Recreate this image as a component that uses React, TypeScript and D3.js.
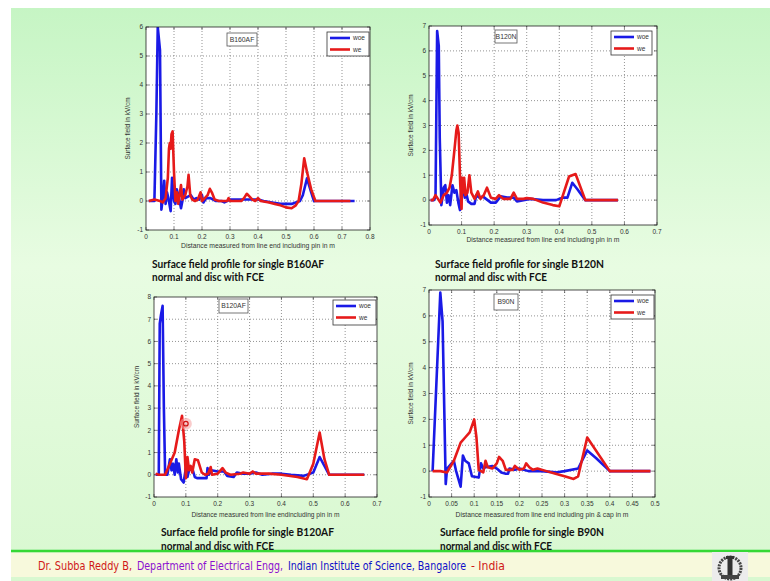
import React from "react";
import * as d3 from "d3";

type Pt = [number, number];

// ---- data ----
const b160afWoe: Pt[] = [[0.01,0],[0.03,0],[0.037,3],[0.042,6.0],[0.046,5.6],[0.05,5.2],[0.055,-0.3],[0.06,0.1],[0.065,0.7],[0.07,-0.1],[0.075,0.3],[0.08,0.1],[0.088,-0.35],[0.093,0.8],[0.1,0.0],[0.105,-0.1],[0.11,0.4],[0.118,0.1],[0.125,-0.25],[0.13,0.0],[0.135,0.4],[0.14,0.1],[0.15,0.15],[0.16,0.2],[0.17,0.05],[0.18,0.1],[0.19,0.05],[0.2,0.2],[0.205,-0.05],[0.215,0.1],[0.23,0.1],[0.25,0.0],[0.27,0.0],[0.28,-0.05],[0.3,0.05],[0.32,0.05],[0.35,0.05],[0.38,0.05],[0.4,0.05],[0.42,0.0],[0.45,-0.05],[0.48,-0.1],[0.52,-0.1],[0.55,0.0],[0.56,0.2],[0.575,0.78],[0.59,0.3],[0.6,0.0],[0.65,0.0],[0.7,0.0],[0.745,0.0]];
const b160afWe: Pt[] = [[0.01,0],[0.03,0.05],[0.05,0.0],[0.06,-0.05],[0.07,0.1],[0.078,0.8],[0.082,1.8],[0.085,2.0],[0.088,1.8],[0.091,2.3],[0.095,2.4],[0.1,1.0],[0.105,0.0],[0.11,0.3],[0.115,-0.1],[0.12,0.2],[0.125,0.55],[0.13,0.05],[0.14,0.2],[0.148,0.5],[0.152,0.9],[0.158,0.2],[0.165,0.05],[0.175,0.0],[0.185,0.05],[0.195,0.3],[0.2,0.0],[0.21,0.1],[0.22,0.2],[0.228,0.42],[0.235,0.3],[0.245,0.05],[0.26,0.0],[0.29,0.0],[0.295,0.1],[0.3,0.0],[0.34,0.0],[0.35,0.1],[0.36,0.25],[0.37,0.15],[0.38,0.05],[0.39,0.0],[0.4,0.1],[0.41,0.0],[0.44,-0.05],[0.46,-0.1],[0.48,-0.15],[0.5,-0.22],[0.52,-0.25],[0.535,-0.15],[0.545,0.0],[0.555,0.6],[0.565,1.47],[0.575,1.0],[0.59,0.4],[0.605,0.0],[0.65,0.0],[0.7,0.0],[0.73,0.0]];

const b120nWoe: Pt[] = [[0.005,0],[0.015,0],[0.02,0.1],[0.025,6.8],[0.03,6.2],[0.033,2.5],[0.038,-0.2],[0.045,0.5],[0.05,0.6],[0.055,-0.1],[0.06,0.2],[0.065,-0.2],[0.072,0.6],[0.078,0.3],[0.084,0.4],[0.09,-0.1],[0.095,-0.4],[0.1,0.6],[0.105,0.4],[0.11,0.1],[0.115,0.25],[0.12,-0.05],[0.13,-0.15],[0.14,-0.15],[0.145,0.2],[0.155,0.1],[0.165,0.15],[0.18,0.0],[0.19,-0.1],[0.205,-0.1],[0.22,0.15],[0.24,0.1],[0.26,0.1],[0.27,-0.05],[0.29,0.0],[0.31,0.05],[0.35,0.0],[0.39,0.0],[0.41,0.1],[0.425,0.1],[0.44,0.7],[0.455,0.45],[0.48,0.0],[0.52,0.0],[0.58,0.0]];
const b120nWe: Pt[] = [[0.005,0],[0.012,0.0],[0.02,0.2],[0.03,0.0],[0.035,-0.1],[0.045,0.2],[0.055,0.3],[0.063,0.5],[0.07,1.0],[0.078,2.0],[0.084,2.8],[0.087,3.0],[0.091,2.7],[0.096,0.6],[0.1,-0.35],[0.102,0.9],[0.105,0.3],[0.108,0.9],[0.112,0.2],[0.118,0.3],[0.124,1.0],[0.13,0.3],[0.14,0.05],[0.15,0.35],[0.158,0.05],[0.168,0.2],[0.178,0.5],[0.19,0.1],[0.205,0.05],[0.215,0.2],[0.228,0.05],[0.25,0.05],[0.26,0.3],[0.27,0.05],[0.29,0.05],[0.3,0.08],[0.32,0.05],[0.35,-0.1],[0.38,-0.2],[0.4,-0.25],[0.43,0.95],[0.45,1.05],[0.48,0.0],[0.52,0.0],[0.58,0.0]];

const b120afWoe: Pt[] = [[0.005,0],[0.015,0],[0.018,6.8],[0.022,7.2],[0.027,7.6],[0.031,3.0],[0.035,0.0],[0.042,0.0],[0.05,0.7],[0.055,0.2],[0.06,0.5],[0.065,0.0],[0.07,0.7],[0.075,0.1],[0.078,0.5],[0.085,-0.2],[0.093,-0.35],[0.1,0.3],[0.105,-0.1],[0.11,0.2],[0.12,0.3],[0.128,-0.1],[0.135,-0.15],[0.15,-0.15],[0.165,-0.15],[0.168,0.3],[0.172,0.0],[0.18,0.2],[0.2,0.15],[0.22,0.15],[0.23,-0.05],[0.25,-0.1],[0.26,0.1],[0.28,0.05],[0.3,0.05],[0.32,0.1],[0.34,0.0],[0.37,0.05],[0.4,0.05],[0.43,0.0],[0.47,-0.05],[0.5,0.1],[0.52,0.8],[0.535,0.4],[0.55,0.0],[0.6,0.0],[0.66,0.0]];
const b120afWe: Pt[] = [[0.005,0.05],[0.015,0.0],[0.035,0.0],[0.05,0.5],[0.065,1.0],[0.078,2.0],[0.088,2.65],[0.095,1.5],[0.1,-0.15],[0.105,0.8],[0.11,0.2],[0.115,0.4],[0.12,0.1],[0.128,0.7],[0.138,0.65],[0.15,0.1],[0.16,0.0],[0.17,0.05],[0.178,0.35],[0.182,0.0],[0.2,0.05],[0.215,0.3],[0.225,0.1],[0.24,0.0],[0.27,0.05],[0.28,0.1],[0.3,0.05],[0.31,0.15],[0.32,0.05],[0.36,0.05],[0.4,0.0],[0.45,-0.1],[0.48,-0.2],[0.5,0.5],[0.52,1.9],[0.535,0.7],[0.55,0.0],[0.6,0.0],[0.66,0.0]];

const b90nWoe: Pt[] = [[0.008,0],[0.025,6.9],[0.03,5.8],[0.037,-0.5],[0.04,0.1],[0.05,0.3],[0.055,0.4],[0.06,0.0],[0.07,-0.6],[0.075,0.6],[0.08,0.4],[0.088,0.3],[0.095,-0.2],[0.11,-0.25],[0.115,0.3],[0.12,0.1],[0.125,0.15],[0.14,0.2],[0.15,0.1],[0.16,-0.05],[0.17,-0.1],[0.175,-0.1],[0.178,0.1],[0.19,0.05],[0.2,0.1],[0.22,0.0],[0.25,0.0],[0.28,-0.05],[0.3,0.0],[0.33,0.1],[0.35,0.8],[0.37,0.5],[0.4,0.0],[0.45,0.0],[0.49,0.0]];
const b90nWe: Pt[] = [[0.008,0],[0.025,0.0],[0.04,-0.05],[0.055,0.4],[0.07,1.1],[0.08,1.3],[0.09,1.5],[0.1,2.0],[0.105,1.3],[0.11,0.05],[0.12,-0.05],[0.125,0.4],[0.13,0.15],[0.14,0.1],[0.15,0.3],[0.155,0.55],[0.163,0.4],[0.17,0.05],[0.185,0.05],[0.19,0.2],[0.2,0.05],[0.21,0.1],[0.215,0.3],[0.222,0.15],[0.23,0.05],[0.24,0.1],[0.26,0.0],[0.28,-0.1],[0.3,-0.2],[0.32,-0.3],[0.33,-0.2],[0.35,1.3],[0.4,0.0],[0.45,0.0],[0.49,0.0]];

const xTicks08 = [0, 0.1, 0.2, 0.3, 0.4, 0.5, 0.6, 0.7, 0.8];
const xTicks07 = [0, 0.1, 0.2, 0.3, 0.4, 0.5, 0.6, 0.7];
const xTicks05 = [0, 0.05, 0.1, 0.15, 0.2, 0.25, 0.3, 0.35, 0.4, 0.45, 0.5];
const yTicks6 = [-1, 0, 1, 2, 3, 4, 5, 6];
const yTicks7 = [-1, 0, 1, 2, 3, 4, 5, 6, 7];
const yTicks8 = [-1, 0, 1, 2, 3, 4, 5, 6, 7, 8];
const seriesNames = ["woe", "we"];
const titleLine2 = "normal and disc with FCE";
const yAxisLabel = "Surface field in kV/cm";
const markerPoint: Pt = [0.1, 2.3];
const footerParts = ["Dr. Subba Reddy B,", "Department of Electrical Engg,", "Indian Institute of Science, Bangalore", "- India"];

const BLUE = "#1a1ae6";
const RED = "#e61a1a";
const AX_FONT = "'Liberation Sans', Arial, sans-serif";
const TITLE_FONT = "Lato, 'Open Sans', sans-serif";

type Panel = {
  label: string;
  title: string;
  xLabel: string;
  xTicks: number[];
  yTicks: number[];
  woe: Pt[];
  we: Pt[];
  x0: number; x1: number; y0: number; y1: number;
  xLabelY: number; xLabelW: number;
  yLabelX: number;
  titleX: number; titleY: number; titleW: number; title2W: number;
  leg: [number, number, number, number];
  box: [number, number, number, number];
  marker?: boolean;
};

const panels: Panel[] = [
  {
    label: "B160AF", title: "Surface  field profile for single B160AF",
    xLabel: "Distance measured from line end including pin in m",
    xTicks: xTicks08, yTicks: yTicks6, woe: b160afWoe, we: b160afWe,
    x0: 146, x1: 370, y0: 230, y1: 27,
    xLabelY: 246, xLabelW: 154, yLabelX: 130,
    titleX: 152, titleY: 267.5, titleW: 172, title2W: 112,
    leg: [327, 32, 42, 24], box: [227, 33, 30, 13],
  },
  {
    label: "B120N", title: "Surface  field profile for single B120N",
    xLabel: "Distance measured from line end including pin in m",
    xTicks: xTicks07, yTicks: yTicks7, woe: b120nWoe, we: b120nWe,
    x0: 429, x1: 657, y0: 225, y1: 26,
    xLabelY: 240, xLabelW: 153, yLabelX: 413,
    titleX: 435, titleY: 267.5, titleW: 169, title2W: 112,
    leg: [611, 31, 41, 24], box: [495, 30, 22, 13],
  },
  {
    label: "B120AF", title: "Surface  field profile for single B120AF",
    xLabel: "Distance measured from line endincluding pin in m",
    xTicks: xTicks07, yTicks: yTicks8, woe: b120afWoe, we: b120afWe,
    x0: 154, x1: 377, y0: 497, y1: 297,
    xLabelY: 515, xLabelW: 148, yLabelX: 139,
    titleX: 161, titleY: 536, titleW: 173, title2W: 113,
    leg: [333, 300, 43, 25], box: [219, 299, 29, 14], marker: true,
  },
  {
    label: "B90N", title: "Surface  field profile for single B90N",
    xLabel: "Distance measured from line end including pin & cap in m",
    xTicks: xTicks05, yTicks: yTicks7, woe: b90nWoe, we: b90nWe,
    x0: 429, x1: 655, y0: 497, y1: 290,
    xLabelY: 515, xLabelW: 173, yLabelX: 413,
    titleX: 440, titleY: 536, titleW: 164, title2W: 112,
    leg: [611, 295, 43, 24], box: [494, 294, 24, 16],
  },
];

const fmt = (t: number) => String(+t.toFixed(2));

function PanelView({ p, idx }: { p: Panel; idx: number }) {
  const x = d3.scaleLinear().domain([p.xTicks[0], p.xTicks[p.xTicks.length - 1]]).range([p.x0, p.x1]);
  const y = d3.scaleLinear().domain([p.yTicks[0], p.yTicks[p.yTicks.length - 1]]).range([p.y0, p.y1]);
  const line = d3.line<Pt>().x((d) => x(d[0])).y((d) => y(d[1]));
  const clipId = `clip${idx}`;
  const [lx, ly, lw, lh] = p.leg;
  const [bx, by, bw, bh] = p.box;
  return (
    <g>
      <defs>
        <clipPath id={clipId}>
          <rect x={p.x0} y={p.y1} width={p.x1 - p.x0} height={p.y0 - p.y1} />
        </clipPath>
      </defs>
      <rect x={p.x0} y={p.y1} width={p.x1 - p.x0} height={p.y0 - p.y1} fill="#fff" />
      {p.xTicks.slice(1, -1).map((t) => (
        <line key={"gx" + t} x1={x(t)} x2={x(t)} y1={p.y0} y2={p.y1} stroke="#666" strokeWidth={0.7} strokeDasharray="1 2" />
      ))}
      {p.yTicks.slice(1, -1).map((t) => (
        <line key={"gy" + t} x1={p.x0} x2={p.x1} y1={y(t)} y2={y(t)} stroke="#666" strokeWidth={0.7} strokeDasharray="1 2" />
      ))}
      {p.xTicks.map((t) => (
        <g key={"tx" + t}>
          <line x1={x(t)} x2={x(t)} y1={p.y0} y2={p.y0 - 3} stroke="#333" strokeWidth={0.6} />
          <line x1={x(t)} x2={x(t)} y1={p.y1} y2={p.y1 + 3} stroke="#333" strokeWidth={0.6} />
          <text x={x(t)} y={p.y0 + 9} fontSize={6.5} textAnchor="middle" fill="#333" fontFamily={AX_FONT}>{fmt(t)}</text>
        </g>
      ))}
      {p.yTicks.map((t) => (
        <g key={"ty" + t}>
          <line x1={p.x0} x2={p.x0 + 3} y1={y(t)} y2={y(t)} stroke="#333" strokeWidth={0.6} />
          <line x1={p.x1} x2={p.x1 - 3} y1={y(t)} y2={y(t)} stroke="#333" strokeWidth={0.6} />
          <text x={p.x0 - 3} y={y(t) + 2.3} fontSize={6.5} textAnchor="end" fill="#333" fontFamily={AX_FONT}>{fmt(t)}</text>
        </g>
      ))}
      <g clipPath={`url(#${clipId})`}>
        <path d={line(p.woe) || ""} fill="none" stroke={BLUE} strokeWidth={2.6} strokeLinejoin="round" />
        <path d={line(p.we) || ""} fill="none" stroke={RED} strokeWidth={2.6} strokeLinejoin="round" />
      </g>
      <rect x={p.x0} y={p.y1} width={p.x1 - p.x0} height={p.y0 - p.y1} fill="none" stroke="#222" strokeWidth={0.8} />
      {/* label box */}
      <rect x={bx} y={by} width={bw} height={bh} fill="#fff" stroke="#555" strokeWidth={0.8} />
      <text x={bx + bw / 2} y={by + bh / 2 + 2.4} fontSize={6.8} textAnchor="middle" fill="#333" fontFamily={AX_FONT}>{p.label}</text>
      {/* legend */}
      <rect x={lx} y={ly} width={lw} height={lh} fill="#fff" stroke="#333" strokeWidth={0.8} />
      {seriesNames.map((s, i) => (
        <g key={s}>
          <line x1={lx + 3} x2={lx + 23} y1={ly + 6 + i * 11.5} y2={ly + 6 + i * 11.5} stroke={i === 0 ? BLUE : RED} strokeWidth={2.6} />
          <text x={lx + 26} y={ly + 8.3 + i * 11.5} fontSize={6.5} fill="#333" fontFamily={AX_FONT}>{s}</text>
        </g>
      ))}
      {p.marker && (
        <g>
          <circle cx={x(markerPoint[0])} cy={y(markerPoint[1])} r={6} fill="#f4a0a0" opacity={0.55} />
          <circle cx={x(markerPoint[0])} cy={y(markerPoint[1])} r={2.3} fill="none" stroke="#d01010" strokeWidth={1.2} />
        </g>
      )}
      {/* axis labels */}
      <text x={(p.x0 + p.x1) / 2} y={p.xLabelY + 2.3} fontSize={6.5} textAnchor="middle" fill="#333" fontFamily={AX_FONT}
        textLength={p.xLabelW} lengthAdjust="spacingAndGlyphs">{p.xLabel}</text>
      <text transform={`translate(${p.yLabelX},${(p.y0 + p.y1) / 2}) rotate(-90)`} fontSize={6.5} textAnchor="middle" fill="#333" fontFamily={AX_FONT}
        textLength={62} lengthAdjust="spacingAndGlyphs">{yAxisLabel}</text>
    </g>
  );
}

function Caption({ p }: { p: Panel }) {
  return (
    <g>
      <text x={p.titleX} y={p.titleY} fontSize={12} fontWeight="bold" fill="#111" fontFamily={TITLE_FONT}
        textLength={p.titleW} lengthAdjust="spacingAndGlyphs">{p.title}</text>
      <text x={p.titleX} y={p.titleY + 13.5} fontSize={12} fontWeight="bold" fill="#111" fontFamily={TITLE_FONT}
        textLength={p.title2W} lengthAdjust="spacingAndGlyphs">{titleLine2}</text>
    </g>
  );
}

const footerX = [38, 137, 288, 471];
const footerW = [94, 146, 178, 34];
const footerC = ["#d01818", "#8a10d0", "#1010c8", "#d01818"];

export default function App() {
  return (
    <svg width={770} height={581} style={{ position: "absolute", left: 0, top: 0 }} xmlns="http://www.w3.org/2000/svg">
      <defs>
        <linearGradient id="bg" x1="0" y1="0" x2="0" y2="1">
          <stop offset="0" stopColor="#c6f5c4" />
          <stop offset="0.45" stopColor="#e8fce2" />
          <stop offset="1" stopColor="#d8f8d0" />
        </linearGradient>
        <linearGradient id="gl" x1="0" y1="0" x2="0" y2="1">
          <stop offset="0" stopColor="#7ee87e" />
          <stop offset="0.5" stopColor="#10d010" />
          <stop offset="1" stopColor="#7ee87e" />
        </linearGradient>
      </defs>
      <rect x={0} y={0} width={770} height={581} fill="#fff" />
      <rect x={11} y={8} width={759} height={573} fill="url(#bg)" />
      {panels.map((p, i) => <PanelView key={p.label} p={p} idx={i} />)}
      {/* footer */}
      <rect x={11} y={552} width={759} height={25} fill="#f7f9dc" />
      <rect x={11} y={549.5} width={759} height={3} fill="url(#gl)" />
      {panels.map((p) => <Caption key={"c" + p.label} p={p} />)}
      {footerParts.map((s, i) => (
        <text key={s} transform={`translate(${footerX[i]},570) scale(1,1.5)`} fontSize={8} fill={footerC[i]}
          fontFamily="'DejaVu Sans', sans-serif" textLength={footerW[i]} lengthAdjust="spacingAndGlyphs">{s}</text>
      ))}
      {/* logo */}
      <g>
        <rect x={712} y={552} width={36} height={29} fill="#ececec" />
        <circle cx={730} cy={568} r={11} fill="none" stroke="#444" strokeWidth={3} strokeDasharray="2 1" />
        <rect x={727.5} y={558} width={5} height={20} fill="#333" />
        <rect x={726} y={556} width={8} height={3} fill="#333" />
        <rect x={721} y={575} width={18} height={4} fill="#444" />
      </g>
    </svg>
  );
}
